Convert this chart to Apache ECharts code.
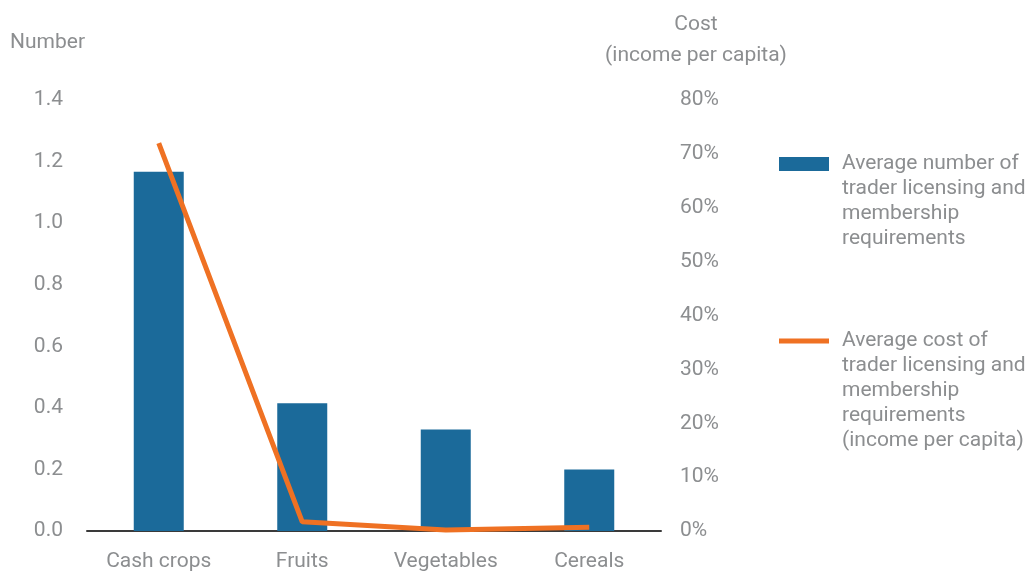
<!DOCTYPE html>
<html>
<head>
<meta charset="utf-8">
<script src="https://cdn.jsdelivr.net/npm/echarts@6/dist/echarts.min.js"></script>
<style>
  html, body { margin: 0; padding: 0; background: #fff; }
  #chart { width: 1036px; height: 572px; }
</style>
</head>
<body>
<div id="chart"></div>
<script>
// data
var categories = ['Cash crops', 'Fruits', 'Vegetables', 'Cereals'];
var avgNumber = [1.167, 0.415, 0.33, 0.20];
var avgCost = [72, 1.7, 0.2, 0.7];   // percent of income per capita

var barName = 'Average number of\ntrader licensing and\nmembership\nrequirements';
var lineName = 'Average cost of\ntrader licensing and\nmembership\nrequirements\n(income per capita)';

var grey = '#8c8e90';
var font = 'Roboto, "Noto Sans", sans-serif';
var fs = 21;

var myChart = echarts.init(document.getElementById('chart'));

// legend text is centred on the icon; lead with blank lines so the icon sits on the first line
// the trailing moveTo in the icon path widens the icon box so the text starts a bit further right
function legendAt(name, top, lines, h) {
  var pad = '';
  for (var i = 1; i < lines; i++) pad += '\n';
  return {
    data: [{ name: name, icon: 'path://M0,0H50V' + h + 'H0Z M58,' + h }],
    orient: 'vertical',
    left: 779,
    top: top,
    padding: 0,
    itemWidth: 58,
    itemHeight: h,
    selectedMode: false,
    formatter: function (n) { return pad + n; },
    textStyle: { color: grey, fontSize: fs, fontFamily: font, lineHeight: 25 }
  };
}

var option = {
  animation: false,
  backgroundColor: '#fff',
  textStyle: { fontFamily: font },
  grid: { left: 87, right: 375, top: 100, bottom: 38, containLabel: false },
  legend: [
    legendAt(barName, 164 - 7 * 25 / 2, 4, 14),
    legendAt(lineName, 341 - 9 * 25 / 2, 5, 5)
  ],
  graphic: [
    { type: 'text', left: 10, top: 32,
      style: { text: 'Number', fill: grey, fontSize: fs, fontFamily: font } },
    { type: 'text', x: 696, y: 9,
      style: { text: 'Cost\n(income per capita)', fill: grey, fontSize: fs,
               fontFamily: font, lineHeight: 31, align: 'center' } }
  ],
  xAxis: {
    type: 'category',
    data: categories,
    axisTick: { show: false },
    axisLine: { lineStyle: { color: '#3a3a3a', width: 2 } },
    axisLabel: { color: grey, fontSize: fs, fontFamily: font, margin: 20 }
  },
  yAxis: [
    {
      type: 'value', min: 0, max: 1.4, interval: 0.2,
      axisLine: { show: false }, axisTick: { show: false },
      splitLine: { show: false },
      axisLabel: { color: grey, fontSize: fs, fontFamily: font, margin: 24,
        formatter: function (v) { return v.toFixed(1); } }
    },
    {
      type: 'value', min: 0, max: 80, interval: 10, position: 'right',
      axisLine: { show: false }, axisTick: { show: false },
      splitLine: { show: false },
      axisLabel: { color: grey, fontSize: fs, fontFamily: font, margin: 19,
        formatter: '{value}%' }
    }
  ],
  series: [
    {
      name: barName,
      type: 'bar',
      data: avgNumber,
      barWidth: 50,
      itemStyle: { color: '#1b6a9a' }
    },
    {
      name: lineName,
      type: 'line',
      yAxisIndex: 1,
      data: avgCost,
      showSymbol: false,
      symbol: 'none',
      lineStyle: { color: '#ef7123', width: 5 },
      itemStyle: { color: '#ef7123' }
    }
  ]
};

myChart.setOption(option);
</script>
</body>
</html>
